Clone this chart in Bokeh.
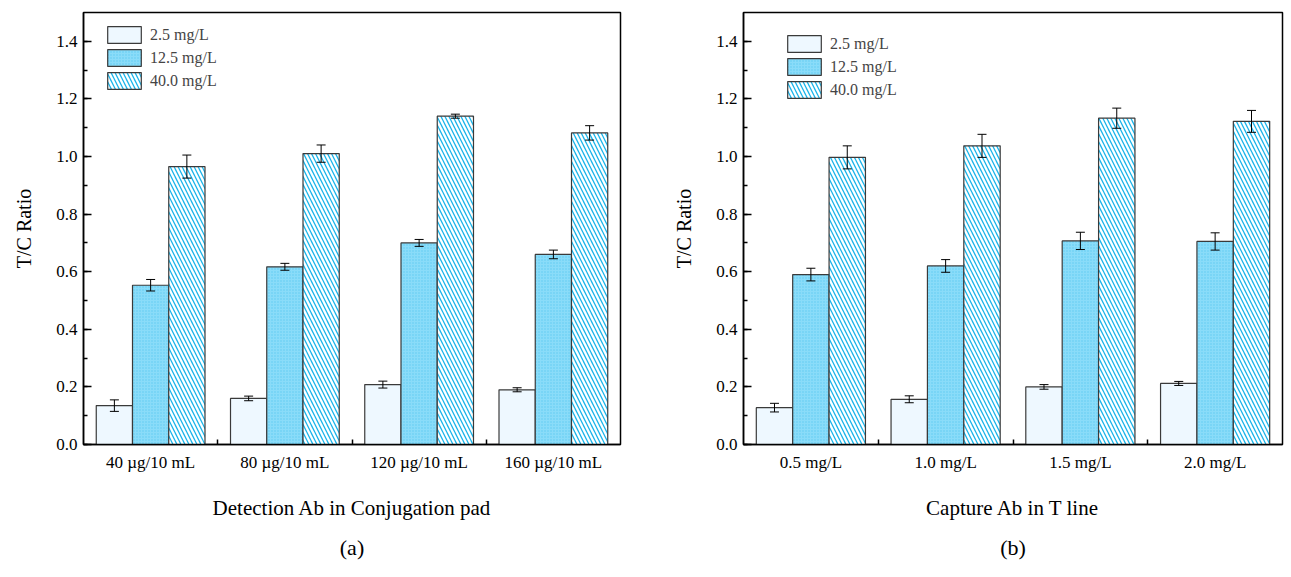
from bokeh.plotting import figure
from bokeh.layouts import row
from bokeh.models import (FixedTicker, SingleIntervalTicker, NumeralTickFormatter, Range1d,
                          ColumnDataSource, Whisker, TeeHead, Legend, LegendItem, Title)
from bokeh.embed import file_html
from bokeh.resources import INLINE

series = ["2.5 mg/L", "12.5 mg/L", "40.0 mg/L"]

cats_a = ["40 µg/10 mL", "80 µg/10 mL", "120 µg/10 mL", "160 µg/10 mL"]
a_25 = [0.135, 0.160, 0.208, 0.190]
a_25_err = [0.020, 0.008, 0.012, 0.007]
a_125 = [0.553, 0.617, 0.700, 0.660]
a_125_err = [0.020, 0.012, 0.012, 0.015]
a_40 = [0.965, 1.010, 1.140, 1.082]
a_40_err = [0.040, 0.030, 0.007, 0.025]

cats_b = ["0.5 mg/L", "1.0 mg/L", "1.5 mg/L", "2.0 mg/L"]
b_25 = [0.128, 0.157, 0.200, 0.212]
b_25_err = [0.015, 0.012, 0.008, 0.007]
b_125 = [0.590, 0.620, 0.707, 0.705]
b_125_err = [0.022, 0.022, 0.030, 0.030]
b_40 = [0.997, 1.037, 1.133, 1.122]
b_40_err = [0.040, 0.040, 0.035, 0.038]

xlabel_a = "Detection Ab in Conjugation pad"
xlabel_b = "Capture Ab in T line"
ylabel = "T/C Ratio"

SERIF = "Liberation Serif"
BW = 0.27
offsets = [-BW, 0.0, BW]
styles = [
    dict(fill_color="#EEF8FF"),
    dict(fill_color="#8ADCF9", hatch_pattern="dot", hatch_color="#5FCBF2", hatch_scale=3, hatch_weight=1),
    dict(fill_color="white", hatch_pattern="\\", hatch_color="#18B4EA", hatch_scale=8, hatch_weight=1.3),
]


def make(cats, vals, errs, xlabel, caption, width, bl, br, leg_xy):
    p = figure(width=width, height=577, output_backend="svg", toolbar_location=None,
               x_range=Range1d(0.5, 4.5), y_range=Range1d(0, 1.5),
               min_border_left=bl, min_border_right=br, min_border_top=12, min_border_bottom=133)
    p.xgrid.visible = False
    p.ygrid.visible = False
    p.outline_line_color = "black"
    p.outline_line_width = 1.5
    p.background_fill_color = "white"
    p.border_fill_color = "white"

    items = []
    for k in range(3):
        xs = [i + 1 + offsets[k] for i in range(len(cats))]
        src = ColumnDataSource(dict(x=xs, top=vals[k],
                                    lo=[v - e for v, e in zip(vals[k], errs[k])],
                                    hi=[v + e for v, e in zip(vals[k], errs[k])]))
        r = p.vbar(x="x", top="top", width=BW, source=src, line_color="#3a3a3a",
                   line_width=1.2, **styles[k])
        p.add_layout(Whisker(source=src, base="x", lower="lo", upper="hi", level="overlay",
                             line_color="black", line_width=1,
                             upper_head=TeeHead(size=9, line_color="black", line_width=1),
                             lower_head=TeeHead(size=9, line_color="black", line_width=1)))
        items.append(LegendItem(label=series[k], renderers=[r]))

    leg = Legend(items=items, location=leg_xy, padding=0, margin=0, spacing=2,
                 glyph_width=42, glyph_height=21, label_height=21, label_standoff=5,
                 label_text_font=SERIF, label_text_font_size="16px",
                 border_line_color=None, background_fill_alpha=0)
    p.add_layout(leg)

    # x axis
    xa = p.xaxis[0]
    xa.ticker = FixedTicker(ticks=[1, 2, 3, 4], minor_ticks=[1.5, 2.5, 3.5])
    xa.major_label_overrides = {i + 1: c for i, c in enumerate(cats)}
    xa.major_tick_in = 0
    xa.major_tick_out = 0
    xa.minor_tick_in = 5
    xa.minor_tick_out = 0
    xa.minor_tick_line_width = 1.5
    xa.axis_line_width = 1.5
    xa.major_label_text_font = SERIF
    xa.major_label_text_font_size = "17px"
    xa.major_label_text_color = "black"
    xa.major_label_standoff = 8
    xa.axis_label = xlabel
    xa.axis_label_text_font = SERIF
    xa.axis_label_text_font_size = "21px"
    xa.axis_label_text_font_style = "normal"
    xa.axis_label_text_color = "black"
    xa.axis_label_standoff = 21

    ya = p.yaxis[0]
    ya.ticker = SingleIntervalTicker(interval=0.2, num_minor_ticks=2)
    ya.formatter = NumeralTickFormatter(format="0.0")
    ya.major_tick_in = 8
    ya.major_tick_out = 0
    ya.minor_tick_in = 4
    ya.minor_tick_out = 0
    ya.major_tick_line_width = 1.5
    ya.minor_tick_line_width = 1.5
    ya.axis_line_width = 1.5
    ya.major_label_text_font = SERIF
    ya.major_label_text_font_size = "17px"
    ya.major_label_text_color = "black"
    ya.major_label_standoff = 6
    ya.axis_label = ylabel
    ya.axis_label_text_font = SERIF
    ya.axis_label_text_font_size = "20px"
    ya.axis_label_text_font_style = "normal"
    ya.axis_label_text_color = "black"
    ya.axis_label_standoff = 18

    p.add_layout(Title(text=caption, align="center", text_font=SERIF, text_font_size="22px",
                       text_font_style="normal", text_color="black", standoff=20), "below")
    return p


pa = make(cats_a, [a_25, a_125, a_40], [a_25_err, a_125_err, a_40_err], xlabel_a, "(a)",
          645, 83, 25, (20, 353))
pb = make(cats_b, [b_25, b_125, b_40], [b_25_err, b_125_err, b_40_err], xlabel_b, "(b)",
          646, 98, 9, (40, 344))

layout = row(pa, pb)
open("out.html", "w").write(file_html(layout, INLINE))
